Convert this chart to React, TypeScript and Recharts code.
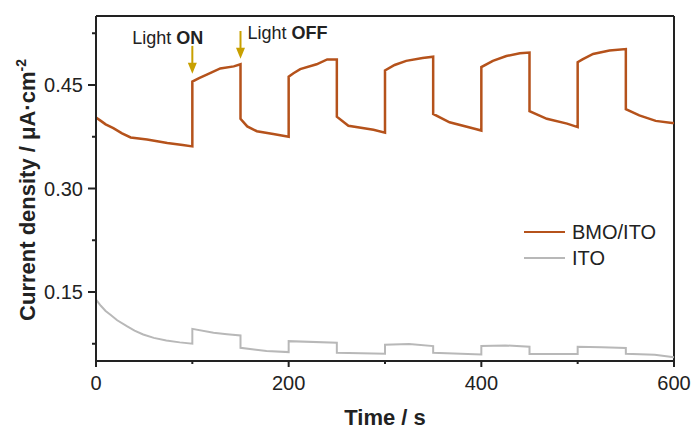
import React from "react";
import {
  LineChart,
  Line,
  XAxis,
  YAxis,
  Legend,
  ReferenceLine,
} from "recharts";

// BMO/ITO photocurrent (µA·cm-2) vs time (s)
const bmoTime = [
  0, 5, 10, 18, 27, 36, 53, 74, 90, 100, 100, 107, 115, 129, 143, 150, 150, 157, 167, 184, 200,
  200, 205, 212, 229, 240, 250, 250, 262, 275, 288, 300, 300, 310, 322, 339, 350, 350, 367,
  392, 400, 400, 412, 426, 440, 450, 450, 468, 489, 500, 500, 505, 516, 533, 550, 550,
  564, 581, 598, 600,
];
const bmoCurrent = [
  0.403, 0.398, 0.393, 0.3875, 0.38, 0.374, 0.371, 0.366, 0.363, 0.361, 0.455, 0.46, 0.465, 0.474, 0.477, 0.48, 0.401, 0.39, 0.383, 0.379, 0.375,
  0.462, 0.467, 0.473, 0.48, 0.487, 0.487, 0.404, 0.391, 0.388, 0.385, 0.381, 0.471, 0.479, 0.485, 0.489, 0.491, 0.408, 0.396,
  0.387, 0.384, 0.476, 0.485, 0.492, 0.496, 0.497, 0.412, 0.401, 0.394, 0.389, 0.483, 0.487, 0.495, 0.5, 0.502, 0.415,
  0.406, 0.398, 0.395, 0.395,
];

// bare ITO
const itoTime = [
  0, 5, 10, 15, 22, 32, 40, 49, 60, 73, 87, 100, 100, 122, 136, 150, 150, 177, 200, 200, 250, 250, 300,
  300, 325, 350, 350, 400, 400, 425, 450, 450, 500, 500, 525, 550, 550, 580, 600,
];
const itoCurrent = [
  0.139, 0.13, 0.1225, 0.117, 0.109, 0.1004, 0.094, 0.0884, 0.0835, 0.0798, 0.077, 0.075, 0.0966, 0.0909, 0.0889, 0.087, 0.0692, 0.0644, 0.0629, 0.0788, 0.0765, 0.062, 0.0605,
  0.0735, 0.0745, 0.0716, 0.062, 0.0595, 0.0716, 0.0726, 0.0707, 0.0601, 0.0601, 0.0707, 0.07, 0.069, 0.0605, 0.059, 0.0556,
];

const xMajorTicks = [0, 200, 400, 600];
const xTicks = [0, 100, 200, 300, 400, 500, 600];
const yMajorTicks = [0.15, 0.3, 0.45];
const yTicks = [0.075, 0.15, 0.225, 0.3, 0.375, 0.45, 0.525];

const bmoData = bmoTime.map((t, i) => ({ t, v: bmoCurrent[i] }));
const itoData = itoTime.map((t, i) => ({ t, v: itoCurrent[i] }));

const FONT = "'Liberation Sans', Arial, sans-serif";
const INK = "#222";
const BMO_COLOR = "#b5521b";
const ITO_COLOR = "#b8b8b8";
const ARROW = "#c8a000";

const XTick = (props: any) => {
  const { x, y, payload } = props;
  const major = xMajorTicks.includes(payload.value);
  return (
    <g>
      <line x1={x} y1={y} x2={x} y2={y + (major ? 6 : 3)} stroke={INK} strokeWidth={2} />
      {major && (
        <text x={x} y={y + 29} textAnchor="middle" fontSize={20} fontFamily={FONT} fill={INK}>
          {payload.value}
        </text>
      )}
    </g>
  );
};

const YTick = (props: any) => {
  const { x, y, payload } = props;
  const major = yMajorTicks.includes(payload.value);
  return (
    <g>
      <line x1={x} y1={y} x2={x - (major ? 8 : 4)} y2={y} stroke={INK} strokeWidth={2} />
      {major && (
        <text x={x - 13} y={y} dy="0.36em" textAnchor="end" fontSize={20} fontFamily={FONT} fill={INK}>
          {payload.value.toFixed(2)}
        </text>
      )}
    </g>
  );
};

const YTitle = () => (
  <text
    x={35}
    y={190}
    transform="rotate(-90, 35, 190)"
    textAnchor="middle"
    fontSize={22}
    fontWeight="bold"
    fontFamily={FONT}
    fill={INK}
  >
    Current density / μA·cm
    <tspan fontSize={14} dy={-9}>-2</tspan>
  </text>
);

const arrowShape = (label: string, side: "left" | "right") => (p: any) => {
  const { x1, y1, y2 } = p;
  return (
    <g>
      <line x1={x1} y1={y1} x2={x1} y2={y2 - 9} stroke={ARROW} strokeWidth={2} />
      <polygon points={`${x1 - 4.5},${y2 - 11} ${x1 + 4.5},${y2 - 11} ${x1},${y2}`} fill={ARROW} />
      {side === "left" ? (
        <text x={x1 + 11} y={y1 - 2} textAnchor="end" fontSize={18} fontFamily={FONT} fill={INK}>
          Light <tspan fontWeight="bold">{label}</tspan>
        </text>
      ) : (
        <text x={x1 + 7} y={y1 + 8} textAnchor="start" fontSize={18} fontFamily={FONT} fill={INK}>
          Light <tspan fontWeight="bold">{label}</tspan>
        </text>
      )}
    </g>
  );
};

const renderLegend = () => (
  <div style={{ fontFamily: FONT, fontSize: 20, color: INK }}>
    {[
      { name: "BMO/ITO", color: BMO_COLOR },
      { name: "ITO", color: ITO_COLOR },
    ].map((s) => (
      <div key={s.name} style={{ display: "flex", alignItems: "center", height: 26 }}>
        <svg width={41} height={4} style={{ marginRight: 7 }}>
          <line x1={0} y1={2} x2={41} y2={2} stroke={s.color} strokeWidth={2} />
        </svg>
        <span>{s.name}</span>
      </div>
    ))}
  </div>
);

export default function App() {
  return (
    <div style={{ position: "absolute", left: 0, top: 0, background: "#fff" }}>
      <LineChart width={695} height={430} margin={{ top: 16, right: 21, left: 0, bottom: 0 }}>
        <XAxis
          dataKey="t"
          type="number"
          domain={[0, 600]}
          ticks={xTicks}
          tick={<XTick />}
          tickSize={0}
          tickMargin={0}
          tickLine={false}
          height={69}
          axisLine={{ stroke: INK, strokeWidth: 2 }}
          allowDuplicatedCategory={false}
          label={{
            value: "Time / s",
            position: "insideBottom",
            offset: 5,
            fontSize: 22,
            fontWeight: "bold",
            fontFamily: FONT,
            fill: INK,
          }}
        />
        <YAxis
          type="number"
          domain={[0.05, 0.55]}
          ticks={yTicks}
          tick={<YTick />}
          tickSize={0}
          tickMargin={0}
          tickLine={false}
          width={96}
          allowDataOverflow
          axisLine={{ stroke: INK, strokeWidth: 2 }}
          label={<YTitle />}
        />
        <ReferenceLine y={0.55} stroke={INK} strokeWidth={2} />
        <ReferenceLine x={600} stroke={INK} strokeWidth={2} />
        <Line
          data={bmoData}
          dataKey="v"
          name="BMO/ITO"
          type="linear"
          stroke={BMO_COLOR}
          strokeWidth={2.5}
          dot={false}
          isAnimationActive={false}
        />
        <Line
          data={itoData}
          dataKey="v"
          name="ITO"
          type="linear"
          stroke={ITO_COLOR}
          strokeWidth={2}
          dot={false}
          isAnimationActive={false}
        />
        <ReferenceLine
          segment={[
            { x: 100, y: 0.5067 },
            { x: 100, y: 0.4663 },
          ]}
          shape={arrowShape("ON", "left")}
        />
        <ReferenceLine
          segment={[
            { x: 150, y: 0.5283 },
            { x: 150, y: 0.488 },
          ]}
          shape={arrowShape("OFF", "right")}
        />
        <Legend
          layout="horizontal"
          align="center"
          verticalAlign="middle"
          content={renderLegend}
          wrapperStyle={{ top: 219, left: 524, width: 160 }}
        />
      </LineChart>
    </div>
  );
}
